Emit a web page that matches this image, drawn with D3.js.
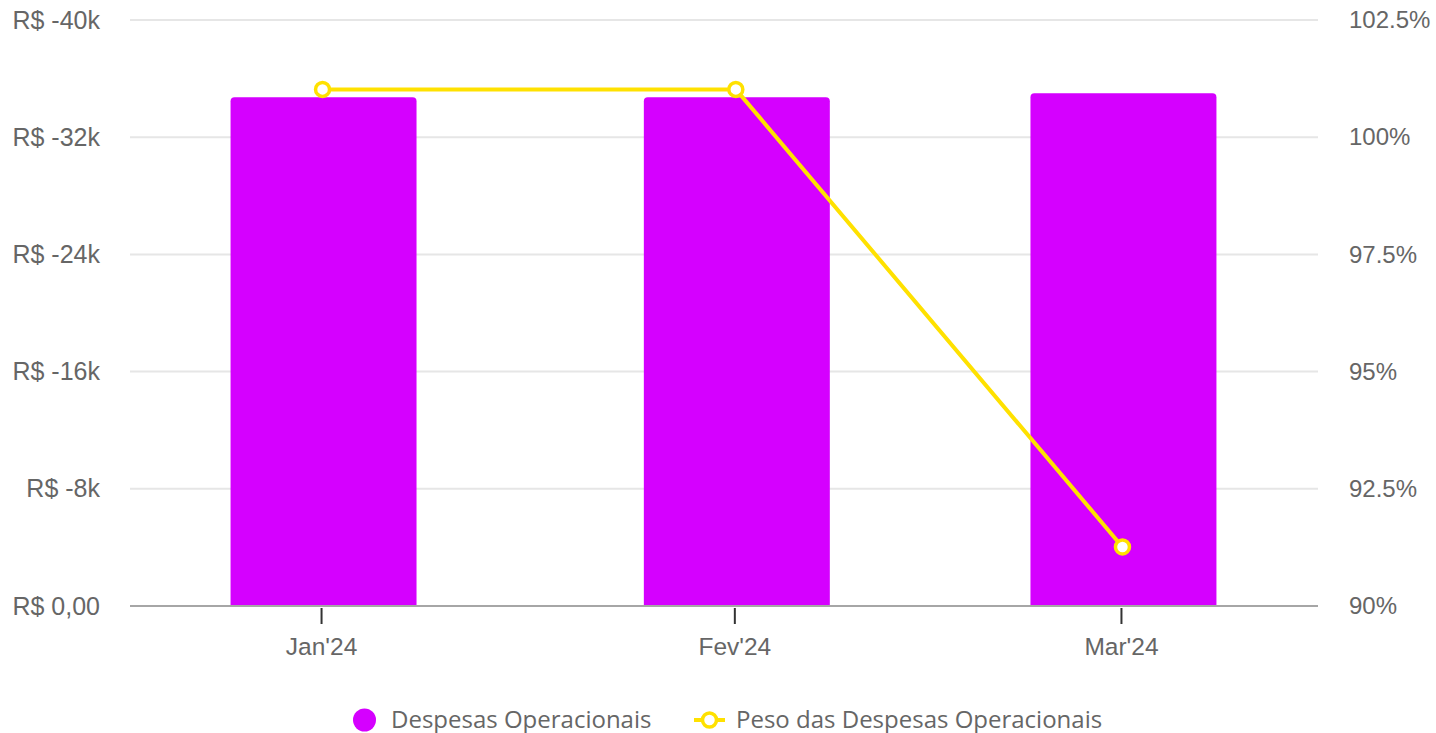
<!DOCTYPE html>
<html>
<head>
<meta charset="utf-8">
<script src="https://cdn.jsdelivr.net/npm/d3@7"></script>
<style>
  html, body { margin: 0; padding: 0; background: #fff; }
  svg { display: block; }
</style>
</head>
<body>
<svg id="chart" width="1436" height="733"></svg>
<script>
// ---- data ----
const months = ["2024-01-01", "2024-02-01", "2024-03-01"];
const monthLabels = ["Jan'24", "Fev'24", "Mar'24"];
const despesas = [-34720, -34720, -35000];
const peso = [101.02, 101.02, 91.26];
const leftTicks = [0, -8000, -16000, -24000, -32000, -40000];
const leftTickLabels = ["R$ 0,00", "R$ -8k", "R$ -16k", "R$ -24k", "R$ -32k", "R$ -40k"];
const rightTicks = [90, 92.5, 95, 97.5, 100, 102.5];
const rightTickLabels = ["90%", "92.5%", "95%", "97.5%", "100%", "102.5%"];
const seriesNames = ["Despesas Operacionais", "Peso das Despesas Operacionais"];

// ---- layout ----
const W = 1436, H = 733;
const plot = { left: 130, right: 1318, top: 20, bottom: 606 };
const barColor = "#d500ff";
const lineColor = "#ffe100";
const axisFont = "'Liberation Sans', Arial, sans-serif";
const legendFont = "'Open Sans', 'Noto Sans', sans-serif";

const svg = d3.select("#chart");
const parse = d3.utcParse("%Y-%m-%d");
const dates = months.map(parse);

const dayMs = 864e5;
const x = d3.scaleUtc()
  .domain([new Date(dates[0].getTime() - 14.33 * dayMs), new Date(dates[2].getTime() + 14.78 * dayMs)])
  .range([plot.left, plot.right]);

const yL = d3.scaleLinear().domain([0, -40000]).range([plot.bottom, plot.top]);
const yR = d3.scaleLinear().domain([90, 102.5]).range([plot.bottom, plot.top]);

// gridlines
svg.append("g")
  .selectAll("line")
  .data(leftTicks.slice(1))
  .join("line")
  .attr("x1", plot.left).attr("x2", plot.right)
  .attr("y1", d => yL(d)).attr("y2", d => yL(d))
  .attr("stroke", "#e6e6e6").attr("stroke-width", 2);

// left axis labels
const leftAxis = d3.axisLeft(yL).tickValues(leftTicks)
  .tickFormat((d, i) => leftTickLabels[i]).tickSize(0).tickPadding(30);
svg.append("g").attr("transform", `translate(${plot.left},0)`).call(leftAxis)
  .call(g => g.select(".domain").remove())
  .call(g => g.selectAll("text").attr("fill", "#666").style("font-family", axisFont).style("font-size", "25px"));

// right axis labels
const rightAxis = d3.axisRight(yR).tickValues(rightTicks)
  .tickFormat((d, i) => rightTickLabels[i]).tickSize(0).tickPadding(31);
svg.append("g").attr("transform", `translate(${plot.right},0)`).call(rightAxis)
  .call(g => g.select(".domain").remove())
  .call(g => g.selectAll("text").attr("fill", "#666").style("font-family", axisFont).style("font-size", "24px"));

// bars (rounded top)
const barW = x(new Date(dates[0].getTime() + 13.95 * dayMs)) - x(dates[0]);
const r = 4;
function barPath(d, i) {
  const cx = x(dates[i]) + 2.5;
  const x0 = cx - barW / 2, x1 = cx + barW / 2;
  const y0 = yL(d), yb = yL(0);
  return `M${x0},${yb}V${y0 + r}Q${x0},${y0} ${x0 + r},${y0}H${x1 - r}Q${x1},${y0} ${x1},${y0 + r}V${yb}Z`;
}
svg.append("g").selectAll("path")
  .data(despesas)
  .join("path")
  .attr("d", barPath)
  .attr("fill", barColor);

// x axis
const xAxis = d3.axisBottom(x).tickValues(dates)
  .tickFormat((d, i) => monthLabels[i]).tickSize(18).tickPadding(14);
svg.append("g").attr("transform", `translate(0,${plot.bottom})`).call(xAxis)
  .call(g => g.select(".domain").attr("stroke", "#a6a6a6").attr("stroke-width", 2)
    .attr("d", `M${plot.left},0H${plot.right}`))
  .call(g => g.selectAll(".tick line").attr("stroke", "#333").attr("stroke-width", 2).attr("y1", 2))
  .call(g => g.selectAll("text").attr("fill", "#666").style("font-family", axisFont).style("font-size", "24.5px"));

// line
const line = d3.line().x((d, i) => x(dates[i]) + 1.5).y(d => yR(d));
svg.append("path").datum(peso)
  .attr("d", line)
  .attr("fill", "none").attr("stroke", lineColor).attr("stroke-width", 4)
  .attr("stroke-linejoin", "round");
svg.append("g").selectAll("circle")
  .data(peso)
  .join("circle")
  .attr("cx", (d, i) => x(dates[i]) + 1.5)
  .attr("cy", d => yR(d))
  .attr("r", 7)
  .attr("fill", "#fff").attr("stroke", lineColor).attr("stroke-width", 3.5);

// legend
const lg = svg.append("g").attr("transform", "translate(0,720)");
lg.append("circle").attr("cx", 364.5).attr("cy", 0).attr("r", 11.5).attr("fill", barColor);
lg.append("text").attr("x", 391).attr("y", 8).text(seriesNames[0])
  .attr("fill", "#666").style("font-family", legendFont).style("font-size", "24px");
lg.append("line").attr("x1", 694).attr("x2", 725).attr("y1", 0).attr("y2", 0)
  .attr("stroke", lineColor).attr("stroke-width", 4);
lg.append("circle").attr("cx", 709.5).attr("cy", 0).attr("r", 7)
  .attr("fill", "#fff").attr("stroke", lineColor).attr("stroke-width", 3.5);
lg.append("text").attr("x", 736).attr("y", 8).text(seriesNames[1])
  .attr("fill", "#666").style("font-family", legendFont).style("font-size", "24px");
</script>
</body>
</html>
